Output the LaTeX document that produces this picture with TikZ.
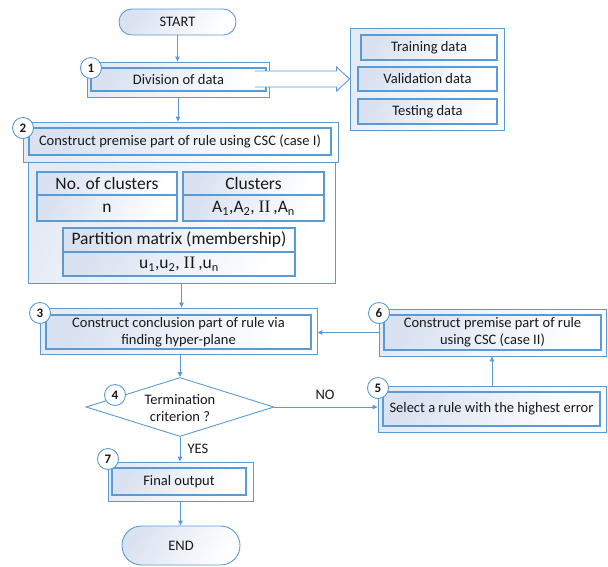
\documentclass[tikz,border=0pt]{standalone}
\usepackage{fontspec}
\setmainfont{Carlito}
\newfontfamily\romII{Liberation Serif}
\usetikzlibrary{arrows.meta,shapes.geometric,calc}
\definecolor{lb}{RGB}{91,155,213}
\definecolor{fb}{RGB}{218,226,241}
\definecolor{tx}{RGB}{25,25,25}
\newcommand\fsmain{\fontsize{14.5}{17}\selectfont}
\newcommand\fstab{\fontsize{17.5}{21}\selectfont}
\newcommand\fsnum{\fontsize{13}{15}\selectfont\bfseries}
\newcommand\twoI{{\romII II}}
\begin{document}
\begin{tikzpicture}[x=1pt,y=-1pt,
  sz/.style 2 args={minimum width=#1pt,minimum height=#2pt},
  outerbox/.style={draw=lb,line width=0.8pt,left color=fb!70,right color=white,shading angle=60,inner sep=0},
  innerbox/.style={draw=lb,line width=1.1pt,left color=fb,right color=white,shading angle=60,inner sep=0,align=center,font=\fsmain,text=tx},
  cellbox/.style={draw=lb,line width=1.1pt,left color=fb,right color=white,shading angle=60,inner sep=0,align=center,font=\fstab,text=tx},
  terminal/.style={draw=lb,line width=0.9pt,left color=fb,right color=white,shading angle=60,inner sep=0,font=\fsmain,text=tx},
  numc/.style={circle,draw=lb,line width=0.9pt,fill=white,minimum size=21pt,inner sep=0,font=\fsnum,text=tx},
  arr/.style={draw=lb,line width=0.9pt,-{Triangle[length=5pt,width=4.5pt]}},
  lbl/.style={font=\fsmain,text=tx,inner sep=0}
]
\useasboundingbox (0,0) rectangle (608,566);

% START
\node[terminal,sz={117}{26},rounded corners=12.9pt] (start) at (177.5,22) {START};

% Box 1
\node[outerbox,sz={182}{35}] (b1o) at (178,79.5) {};
\node[innerbox,sz={175}{23}] (b1i) at (178.5,79.5) {Division of data};

% right container
\node[outerbox,sz={154}{102}] (rbox) at (427,79) {};
\node[innerbox,sz={136}{25}] (train) at (429,47.5) {Training data};
\node[innerbox,sz={139}{24}] (valid) at (427.5,79) {Validation data};
\node[innerbox,sz={139}{25}] (test) at (427.5,111.5) {Testing data};

% block arrow
\coordinate (bas) at (255,79);
\fill[white] ($(bas)+(0,-8)$) -- ($(rbox.west)+(-13,-8)$) -- ($(rbox.west)+(-13,-12)$) -- (rbox.west)
  -- ($(rbox.west)+(-13,12)$) -- ($(rbox.west)+(-13,8)$) -- ($(bas)+(0,8)$) -- cycle;
\draw[lb,line width=0.9pt,line join=miter] ($(bas)+(0,-8)$) -- ($(rbox.west)+(-13,-8)$) -- ($(rbox.west)+(-13,-12)$) -- (rbox.west)
  -- ($(rbox.west)+(-13,12)$) -- ($(rbox.west)+(-13,8)$) -- ($(bas)+(0,8)$);
\node[numc] (c1) at (91,68) {1};

% Box 2
\node[outerbox,sz={315}{40}] (b2o) at (180.5,142) {};
\node[innerbox,sz={302}{27}] (b2i) at (180,141.5) {Construct premise part of rule using CSC (case I)};
\node[outerbox,sz={307}{121}] (cont) at (181.5,222.5) {};
\node[cellbox,sz={140}{23}] (noch) at (107,183.5) {No. of clusters};
\node[cellbox,sz={140}{26}] (nocv) at (107,208) {n};
\node[cellbox,sz={141}{23}] (clh) at (253.5,183.5) {Clusters};
\node[cellbox,sz={141}{26}] (clv) at (253.5,208) {A\textsubscript{1},A\textsubscript{2}, \twoI\,,A\textsubscript{n}};
\node[cellbox,sz={232}{24}] (pmh) at (179,240) {Partition matrix (membership)};
\node[cellbox,sz={232}{24}] (pmv) at (179,264) {u\textsubscript{1},u\textsubscript{2}, \twoI\,,u\textsubscript{n}};
\node[numc] (c2) at (23,128) {2};

% Box 3
\node[outerbox,sz={277}{46}] (b3o) at (178.5,331) {};
\node[innerbox,sz={265}{34}] (b3i) at (178.5,332) {Construct conclusion part of rule via\\finding hyper-plane};
\node[numc] (c3) at (40,313) {3};

% Diamond 4
\node[diamond,draw=lb,line width=0.9pt,fill=white,minimum width=188pt,minimum height=59pt,inner sep=0] (d4) at (180,407) {};
\node[lbl,align=center] (d4t) at (180,408) {Termination\\criterion ?};
\node[numc] (c4) at (115,395) {4};

% Box 6
\node[outerbox,sz={227}{47}] (b6o) at (492.5,332.5) {};
\node[innerbox,sz={217}{35}] (b6i) at (492.5,332.5) {Construct premise part of rule\\using CSC (case II)};
\node[numc] (c6) at (379,313) {6};

% Box 5
\node[outerbox,sz={228}{46}] (b5o) at (492,409) {};
\node[innerbox,sz={217}{34}] (b5i) at (491.5,409) {Select a rule with the highest error};
\node[numc] (c5) at (378,388) {5};

% Box 7
\node[outerbox,sz={145}{39}] (b7o) at (180.5,481.5) {};
\node[innerbox,sz={134}{27}] (b7i) at (179,481.5) {Final output};
\node[numc] (c7) at (108,459) {7};

% END
\node[terminal,sz={118}{39},rounded corners=19.4pt] (end) at (181,545.5) {END};

% labels
\node[lbl] (no) at (325,395) {NO};
\node[lbl] (yes) at (198,449) {YES};

% connectors
\draw[arr] (start.south) -- (start.south |- b1o.north);
\draw[arr] (b1o.south) -- (b1o.south |- b2o.north);
\draw[arr] (cont.south) -- (cont.south |- b3o.north);
\draw[arr] (d4.north |- b3o.south) -- (d4.north);
\draw[arr] (d4.south) -- (d4.south |- b7o.north);
\draw[arr] (b7o.south) -- (b7o.south |- end.north);
\draw[arr] (d4.east) -- (d4.east -| b5o.west);
\draw[arr] (b5o.north) -- (b5o.north |- b6o.south);
\draw[arr] (b6o.west) -- (b6o.west -| b3o.east);
\end{tikzpicture}
\end{document}
